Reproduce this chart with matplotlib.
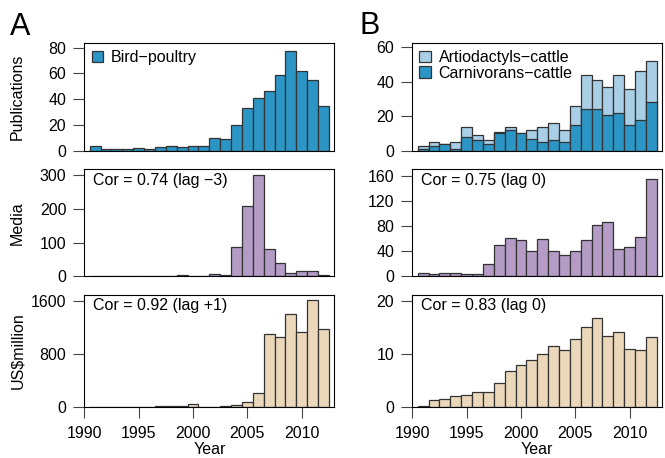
import matplotlib
matplotlib.use("Agg")
import matplotlib.pyplot as plt
from matplotlib.patches import Patch

plt.rcParams['font.family'] = ['Liberation Sans', 'DejaVu Sans']
plt.rcParams['font.size'] = 11.5

years = list(range(1991, 2013))

# Panel A: Bird-poultry
pub_bird = [4, 1, 1, 1, 2, 1, 3, 4, 3, 4, 4, 10, 9, 20, 33, 41, 46, 59, 77, 62, 55, 35]
media_bird = [0.5, 0.5, 0.5, 0.5, 1, 1, 1, 2, 4, 0.5, 2, 7, 4, 87, 207, 300, 82, 40, 10, 15, 17, 3]
usd_bird = [0, 0, 0, 2, 2, 2, 4, 4, 4, 40, 3, 3, 5, 20, 70, 210, 1100, 1050, 1400, 1130, 1615, 1165]

# Panel B: cattle (artiodactyls drawn as the full bar, carnivorans over it)
pub_artio = [3, 5, 4, 5, 14, 9, 6, 11, 14, 10, 12, 14, 16, 12, 26, 44, 41, 37, 44, 36, 46, 52]
pub_carni = [1, 3, 4, 1, 8, 6, 4, 10, 12, 10, 7, 5, 6, 5, 15, 24, 24, 21, 22, 15, 18, 28]
media_cattle = [5, 3, 6, 6, 3, 4, 20, 49, 61, 57, 40, 60, 41, 34, 40, 58, 81, 87, 44, 47, 63, 155]
usd_cattle = [0.2, 1.3, 1.4, 1.95, 2.3, 2.85, 2.85, 4.5, 6.8, 7.8, 8.75, 10.0, 11.45, 10.75,
              12.85, 15.05, 16.8, 13.35, 14.0, 10.8, 10.65, 13.2]

DARK_BLUE = '#2b95c5'
LIGHT_BLUE = '#a9cfe7'
PURPLE = '#b49cc6'
TAN = '#ebd8ba'
EDGE = '#333333'
FS = 11.5


def style_axis(ax, ylim, yticks, bottom_row=False):
    ax.set_xlim(1990, 2013)
    ax.set_ylim(0, ylim)
    ax.set_yticks(yticks)
    ax.tick_params(axis='y', direction='out', length=8, width=0.8,
                   color='#444444', pad=5, labelsize=FS)
    if bottom_row:
        ax.set_xticks([1990, 1995, 2000, 2005, 2010])
        ax.tick_params(axis='x', direction='out', length=8, width=0.8,
                       color='#444444', pad=6, labelsize=FS)
    else:
        ax.set_xticks([])
    for sp in ax.spines.values():
        sp.set_linewidth(0.8)
        sp.set_color('black')


def bars(ax, values, color):
    ax.bar(years, values, width=1.0, color=color, edgecolor=EDGE, linewidth=0.9)


fig = plt.figure(figsize=(6.65, 4.58), dpi=100)

lefts = [0.1268, 0.620]
width = 0.3759
rows = [(0.6710, 0.2358), (0.3967, 0.2336), (0.1120, 0.2439)]

axes = [[fig.add_axes([l, b, width, h]) for l in lefts] for (b, h) in rows]

# Panel A
ax = axes[0][0]
bars(ax, pub_bird, DARK_BLUE)
style_axis(ax, 83.8, [0, 20, 40, 60, 80])
ax.set_ylabel('Publications', fontsize=FS)
ax.legend(handles=[Patch(facecolor=DARK_BLUE, edgecolor=EDGE, linewidth=0.9)],
          labels=['Bird\u2212poultry'], loc='upper left', frameon=False,
          fontsize=FS, handlelength=0.7, handleheight=0.7, handletextpad=0.5,
          borderaxespad=0.25, borderpad=0.2)

ax = axes[1][0]
bars(ax, media_bird, PURPLE)
style_axis(ax, 317, [0, 100, 200, 300])
ax.set_ylabel('Media', fontsize=FS)
ax.text(0.035, 0.97, 'Cor = 0.74 (lag \u22123)', transform=ax.transAxes,
        ha='left', va='top', fontsize=FS)

ax = axes[2][0]
bars(ax, usd_bird, TAN)
style_axis(ax, 1685, [0, 800, 1600], bottom_row=True)
ax.set_ylabel('US$million', fontsize=FS)
ax.set_xlabel('Year', fontsize=FS)
ax.text(0.035, 0.97, 'Cor = 0.92 (lag +1)', transform=ax.transAxes,
        ha='left', va='top', fontsize=FS)

for row in axes:
    row[0].yaxis.set_label_coords(-0.237, 0.5)
axes[2][0].xaxis.set_label_coords(0.5, -0.315)
axes[2][1].xaxis.set_label_coords(0.5, -0.315)

# Panel B
ax = axes[0][1]
ax.bar(years, pub_artio, width=1.0, color=LIGHT_BLUE, edgecolor=EDGE, linewidth=0.9)
ax.bar(years, pub_carni, width=1.0, color=DARK_BLUE, edgecolor=EDGE, linewidth=0.9)
style_axis(ax, 62.7, [0, 20, 40, 60])
ax.legend(handles=[Patch(facecolor=LIGHT_BLUE, edgecolor=EDGE, linewidth=0.9),
                   Patch(facecolor=DARK_BLUE, edgecolor=EDGE, linewidth=0.9)],
          labels=['Artiodactyls\u2212cattle', 'Carnivorans\u2212cattle'],
          loc='upper left', frameon=False, fontsize=FS, handlelength=0.7,
          handleheight=0.7, handletextpad=0.5, labelspacing=0.05,
          borderaxespad=0.25, borderpad=0.2)

ax = axes[1][1]
bars(ax, media_cattle, PURPLE)
style_axis(ax, 170, [0, 40, 80, 120, 160])
ax.text(0.035, 0.97, 'Cor = 0.75 (lag 0)', transform=ax.transAxes,
        ha='left', va='top', fontsize=FS)

ax = axes[2][1]
bars(ax, usd_cattle, TAN)
style_axis(ax, 21.07, [0, 10, 20], bottom_row=True)
ax.set_xlabel('Year', fontsize=FS)
ax.text(0.035, 0.97, 'Cor = 0.83 (lag 0)', transform=ax.transAxes,
        ha='left', va='top', fontsize=FS)

fig.text(10 / 665, 1 - 35 / 458, 'A', fontsize=22, ha='left', va='baseline')
fig.text(359 / 665, 1 - 34 / 458, 'B', fontsize=22, ha='left', va='baseline')

fig.savefig('out.png', dpi=100)
